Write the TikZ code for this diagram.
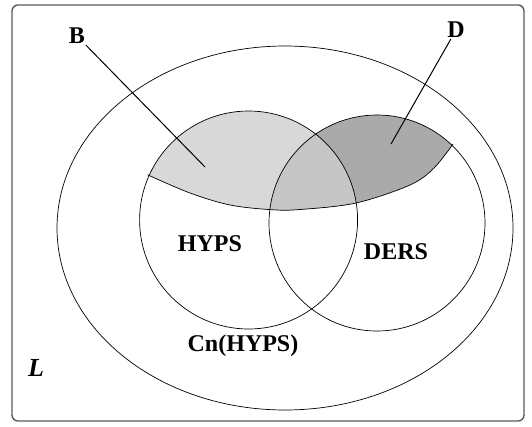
\documentclass[tikz,border=0pt]{standalone}
\usepackage{fontspec}
\setmainfont{Liberation Serif}
\usepackage{tikz}
\usetikzlibrary{positioning,calc}
\definecolor{LightGrey}{RGB}{216,216,216}
\definecolor{MidGrey}{RGB}{198,198,198}
\definecolor{DarkGrey}{RGB}{170,170,170}
\definecolor{Frame}{RGB}{90,90,90}

\tikzset{
  setline/.style={draw=black,line width=0.7pt},
  lbl/.style={font=\bfseries\fontsize{24}{24}\selectfont,inner sep=1pt},
  leader/.style={draw=black,line width=1pt}
}

\begin{document}
\begin{tikzpicture}[x=1pt,y=-1pt]
\useasboundingbox (0,0) rectangle (532,426);
\draw[Frame,line width=1.4pt,rounded corners=6pt] (12,5) rectangle (524,421);
% the cut through both sets
\def\cutcurve{plot[smooth,tension=0.55] coordinates {(147.6,174.8) (190,193) (230,205) (271.5,209.7) (300,209.5) (356,203) (410,185) (434,168) (453,144)}}
% B: HYPS above the cut
\begin{scope}
\clip (248.6,220) circle[radius=109pt];
\fill[LightGrey] \cutcurve -- (500,90) -- (120,90) -- (120,174.8) -- cycle;
\end{scope}
% D: DERS above the cut
\begin{scope}
\clip (377,223) circle[radius=108pt];
\fill[DarkGrey] \cutcurve -- (500,90) -- (120,90) -- (120,174.8) -- cycle;
\end{scope}
% both
\begin{scope}
\clip (248.6,220) circle[radius=109pt];
\clip (377,223) circle[radius=108pt];
\fill[MidGrey] \cutcurve -- (500,90) -- (120,90) -- (120,174.8) -- cycle;
\end{scope}
\draw[setline] \cutcurve;
\draw[setline] (285,228) ellipse[x radius=228pt,y radius=182pt];
\draw[setline] (248.6,220) circle[radius=109pt];
\draw[setline] (377,223) circle[radius=108pt];
% labels
\node[lbl] (hyps) at (210,244) {HYPS};
\node[lbl] (ders) at (396,252) {DERS};
\node[lbl] (cn) at (243,346) {Cn(HYPS)};
\node[lbl,font=\bfseries\itshape\fontsize{26}{26}\selectfont] (ell) at (36,368) {L};
\node[lbl] (b) at (77,36) {B};
\node[lbl] (d) at (456,30) {D};
\coordinate (bend) at (205,167);
\coordinate (dend) at (391,144);
\draw[leader] (b) -- (bend);
\draw[leader] (d) -- (dend);
\end{tikzpicture}
\end{document}
